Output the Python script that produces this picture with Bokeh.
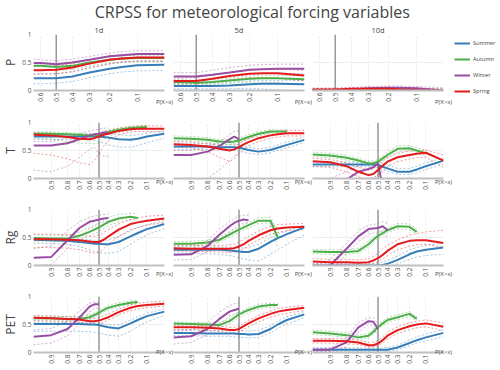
import numpy as np
from statistics import NormalDist
from bokeh.plotting import figure
from bokeh.layouts import column, row
from bokeh.models import (Range1d, FixedTicker, Span, Label, Legend, LegendItem, Title,
                          LinearAxis)
from bokeh.embed import file_html
from bokeh.resources import INLINE

TITLE = "CRPSS for meteorological forcing variables"
VARIABLES = ["P", "T", "Rg", "PET"]
LEADS = ["1d", "5d", "10d"]
SEASONS = ["Summer", "Autumn", "Winter", "Spring"]
COLORS = ["#377eb8", "#4daf4a", "#984ea3", "#e41a1c"]
X_TITLE = "P(X>x)"

# exceedance-probability grids (x values)
P_GRID = [0.64, 0.6, 0.5, 0.4, 0.3, 0.2, 0.15, 0.1, 0.044]
GRID = [0.96, 0.9, 0.8, 0.7, 0.6, 0.55, 0.5, 0.45, 0.4, 0.3, 0.2, 0.15, 0.1, 0.04]
P_TICKS = [0.6, 0.5, 0.4, 0.3, 0.2, 0.1]
P_TICK_LABELS = ["0.6", "0.5", "0.4", "0.3", "0.2", "0.1"]
TICKS = [0.9, 0.8, 0.7, 0.6, 0.5, 0.4, 0.3, 0.2, 0.1]
TICK_LABELS = ["0.9", "0.8", "0.7", "0.6", "0.5", "0.4", "0.3", "0.2", "0.1"]
THRESHOLD = 0.5
Y_TICKS = [0, 0.5, 1]
Y_TICK_LABELS = ["0", "0.5", "1"]

# ---------------- P ----------------
P1_SU = [0.22, 0.22, 0.22, 0.25, 0.32, 0.39, 0.42, 0.45, 0.46]
P1_SU_LO = [0.12, 0.12, 0.13, 0.16, 0.23, 0.30, 0.33, 0.35, 0.36]
P1_SU_HI = [0.30, 0.30, 0.30, 0.33, 0.40, 0.47, 0.50, 0.52, 0.52]
P1_AU = [0.44, 0.44, 0.42, 0.44, 0.50, 0.55, 0.57, 0.58, 0.58]
P1_AU_LO = [0.38, 0.38, 0.36, 0.38, 0.44, 0.49, 0.51, 0.52, 0.52]
P1_AU_HI = [0.48, 0.48, 0.47, 0.49, 0.55, 0.60, 0.62, 0.63, 0.63]
P1_WI = [0.49, 0.49, 0.47, 0.50, 0.55, 0.61, 0.63, 0.65, 0.65]
P1_WI_LO = [0.44, 0.44, 0.42, 0.45, 0.50, 0.56, 0.58, 0.60, 0.60]
P1_WI_HI = [0.56, 0.55, 0.53, 0.56, 0.61, 0.67, 0.69, 0.71, 0.71]
P1_SP = [0.36, 0.36, 0.37, 0.41, 0.48, 0.55, 0.57, 0.59, 0.59]
P1_SP_LO = [0.29, 0.29, 0.30, 0.34, 0.41, 0.48, 0.51, 0.53, 0.53]
P1_SP_HI = [0.43, 0.43, 0.44, 0.48, 0.55, 0.62, 0.64, 0.66, 0.66]

P5_SU = [0.08, 0.08, 0.08, 0.08, 0.09, 0.11, 0.12, 0.12, 0.11]
P5_SU_LO = [0.03, 0.03, 0.03, 0.03, 0.03, 0.04, 0.03, 0.01, -0.02]
P5_SU_HI = [0.13, 0.13, 0.13, 0.13, 0.15, 0.17, 0.18, 0.18, 0.18]
P5_AU = [0.15, 0.15, 0.14, 0.15, 0.18, 0.21, 0.22, 0.22, 0.20]
P5_AU_LO = [0.11, 0.11, 0.10, 0.11, 0.13, 0.15, 0.15, 0.14, 0.11]
P5_AU_HI = [0.19, 0.19, 0.18, 0.19, 0.22, 0.26, 0.27, 0.27, 0.26]
P5_WI = [0.25, 0.25, 0.25, 0.28, 0.32, 0.37, 0.38, 0.39, 0.39]
P5_WI_LO = [0.18, 0.18, 0.18, 0.21, 0.25, 0.29, 0.30, 0.31, 0.30]
P5_WI_HI = [0.32, 0.32, 0.32, 0.36, 0.41, 0.45, 0.46, 0.47, 0.47]
P5_SP = [0.17, 0.17, 0.17, 0.21, 0.26, 0.30, 0.31, 0.31, 0.27]
P5_SP_LO = [0.12, 0.12, 0.12, 0.15, 0.19, 0.23, 0.23, 0.22, 0.17]
P5_SP_HI = [0.22, 0.22, 0.23, 0.27, 0.32, 0.36, 0.38, 0.38, 0.36]

P10_SU = [0.00, 0.00, 0.00, 0.00, 0.00, 0.00, -0.01, -0.02, -0.04]
P10_SU_LO = [-0.02, -0.02, -0.02, -0.02, -0.03, -0.04, -0.05, -0.06, -0.08]
P10_SU_HI = [0.01, 0.01, 0.01, 0.02, 0.02, 0.02, 0.02, 0.02, 0.01]
P10_AU = [0.01, 0.01, 0.01, 0.01, 0.02, 0.02, 0.02, 0.01, -0.01]
P10_AU_LO = [-0.01, -0.01, -0.01, -0.01, -0.01, -0.01, -0.02, -0.03, -0.05]
P10_AU_HI = [0.03, 0.03, 0.03, 0.03, 0.04, 0.04, 0.04, 0.04, 0.03]
P10_WI = [0.01, 0.01, 0.01, 0.02, 0.04, 0.05, 0.05, 0.04, 0.00]
P10_WI_LO = [-0.01, -0.01, -0.01, 0.00, 0.01, 0.02, 0.02, 0.01, -0.03]
P10_WI_HI = [0.04, 0.04, 0.04, 0.05, 0.07, 0.08, 0.08, 0.07, 0.05]
P10_SP = [0.02, 0.02, 0.02, 0.03, 0.03, 0.03, 0.02, 0.01, -0.01]
P10_SP_LO = [0.00, 0.00, 0.00, 0.01, 0.01, 0.01, 0.00, -0.01, -0.04]
P10_SP_HI = [0.04, 0.04, 0.04, 0.05, 0.06, 0.06, 0.05, 0.04, 0.03]

# ---------------- T ----------------
T1_SU = [0.75, 0.75, 0.75, 0.75, 0.75, 0.75, 0.75, 0.74, 0.73, 0.70, 0.69, 0.71, 0.75, 0.80]
T1_SU_LO = [0.70, 0.70, 0.70, 0.70, 0.69, 0.68, 0.66, 0.63, 0.60, 0.56, 0.56, 0.59, 0.64, 0.72]
T1_SU_HI = [0.79, 0.79, 0.79, 0.79, 0.79, 0.79, 0.80, 0.80, 0.80, 0.78, 0.77, 0.78, 0.81, 0.85]
T1_AU = [0.80, 0.80, 0.79, 0.78, 0.77, 0.77, 0.78, 0.80, 0.83, 0.87, 0.90, 0.91, 0.92]
T1_AU_LO = [0.72, 0.70, 0.66, 0.63, 0.62, 0.62, 0.63, 0.70, 0.75, 0.82, 0.86, 0.87, 0.88]
T1_AU_HI = [0.83, 0.83, 0.82, 0.81, 0.80, 0.80, 0.81, 0.83, 0.86, 0.90, 0.93, 0.94, 0.95]
T1_WI = [0.59, 0.59, 0.63, 0.70, 0.77, 0.79, 0.80, 0.82, 0.82]
T1_WI_LO = [0.15, 0.12, 0.22, 0.38, 0.52, 0.56, 0.45, 0.40, 0.40]
T1_WI_HI = [0.66, 0.66, 0.72, 0.80, 0.85, 0.87, 0.88, 0.90, 0.90]
T1_SP = [0.78, 0.77, 0.74, 0.71, 0.70, 0.72, 0.75, 0.78, 0.80, 0.85, 0.88, 0.89, 0.89, 0.89]
T1_SP_LO = [0.45, 0.42, 0.35, 0.28, 0.25, 0.32, 0.45, 0.58, 0.68, 0.78, 0.83, 0.84, 0.84, 0.83]
T1_SP_HI = [0.82, 0.81, 0.79, 0.77, 0.77, 0.78, 0.81, 0.84, 0.86, 0.90, 0.93, 0.94, 0.94, 0.94]

T5_SU = [0.57, 0.57, 0.57, 0.56, 0.56, 0.56, 0.55, 0.53, 0.51, 0.48, 0.51, 0.55, 0.60, 0.69]
T5_SU_LO = [0.52, 0.52, 0.52, 0.51, 0.51, 0.50, 0.49, 0.47, 0.45, 0.43, 0.46, 0.50, 0.55, 0.64]
T5_SU_HI = [0.62, 0.62, 0.62, 0.61, 0.61, 0.61, 0.60, 0.58, 0.56, 0.53, 0.56, 0.60, 0.65, 0.74]
T5_AU = [0.72, 0.71, 0.69, 0.66, 0.65, 0.66, 0.68, 0.71, 0.74, 0.80, 0.84, 0.84, 0.84]
T5_AU_LO = [0.68, 0.67, 0.65, 0.62, 0.61, 0.62, 0.64, 0.67, 0.70, 0.76, 0.80, 0.81, 0.81]
T5_AU_HI = [0.76, 0.75, 0.73, 0.70, 0.69, 0.70, 0.72, 0.75, 0.78, 0.84, 0.87, 0.87, 0.87]
T5_WI = [0.42, 0.42, 0.48, 0.58, 0.70, 0.75, 0.70]
T5_WI_LO = [-0.40, -0.25, 0.00, 0.15, 0.32, 0.40, 0.45]
T5_WI_HI = [0.50, 0.50, 0.56, 0.66, 0.78, 0.84, 0.85]
T5_SP = [0.61, 0.60, 0.57, 0.53, 0.50, 0.52, 0.56, 0.61, 0.65, 0.72, 0.77, 0.79, 0.81, 0.81]
T5_SP_LO = [0.56, 0.55, 0.48, 0.38, 0.30, 0.35, 0.45, 0.53, 0.58, 0.66, 0.72, 0.74, 0.76, 0.76]
T5_SP_HI = [0.66, 0.65, 0.62, 0.59, 0.56, 0.58, 0.62, 0.67, 0.71, 0.78, 0.82, 0.84, 0.86, 0.86]

T10_SU = [0.25, 0.25, 0.25, 0.25, 0.25, 0.25, 0.24, 0.21, 0.18, 0.12, 0.12, 0.16, 0.22, 0.32]
T10_SU_LO = [0.21, 0.21, 0.21, 0.21, 0.21, 0.20, 0.19, 0.16, 0.13, 0.07, 0.07, 0.10, 0.16, 0.26]
T10_SU_HI = [0.29, 0.29, 0.29, 0.29, 0.29, 0.29, 0.29, 0.27, 0.24, 0.18, 0.18, 0.22, 0.28, 0.37]
T10_AU = [0.43, 0.41, 0.37, 0.32, 0.27, 0.27, 0.30, 0.36, 0.42, 0.53, 0.54, 0.50, 0.45]
T10_AU_LO = [0.39, 0.37, 0.33, 0.28, 0.23, 0.23, 0.26, 0.32, 0.37, 0.48, 0.50, 0.46, 0.41]
T10_AU_HI = [0.47, 0.45, 0.41, 0.36, 0.31, 0.31, 0.34, 0.40, 0.47, 0.58, 0.59, 0.55, 0.50]
T10_WI = [-0.35, -0.20, -0.02, 0.12, 0.17, 0.20, 0.27, -0.15]
T10_WI_LO = [-0.60, -0.45, -0.20, -0.05, 0.00, 0.02, 0.05, -0.40]
T10_WI_HI = [-0.10, 0.00, 0.12, 0.22, 0.26, 0.28, 0.30, 0.10]
T10_SP = [0.31, 0.29, 0.22, 0.12, 0.06, 0.08, 0.15, 0.23, 0.30, 0.38, 0.42, 0.44, 0.46, 0.32]
T10_SP_LO = [0.22, 0.20, 0.12, 0.03, -0.02, 0.00, 0.06, 0.14, 0.21, 0.30, 0.35, 0.37, 0.38, 0.20]
T10_SP_HI = [0.36, 0.34, 0.28, 0.20, 0.15, 0.17, 0.24, 0.31, 0.37, 0.45, 0.49, 0.50, 0.51, 0.42]

# ---------------- Rg ----------------
RG1_SU = [0.46, 0.45, 0.44, 0.42, 0.40, 0.39, 0.39, 0.38, 0.38, 0.42, 0.52, 0.58, 0.65, 0.74]
RG1_SU_LO = [0.40, 0.39, 0.38, 0.34, 0.28, 0.25, 0.23, 0.22, 0.22, 0.25, 0.38, 0.46, 0.55, 0.66]
RG1_SU_HI = [0.50, 0.49, 0.48, 0.47, 0.46, 0.45, 0.45, 0.45, 0.46, 0.52, 0.62, 0.68, 0.73, 0.80]
RG1_AU = [0.49, 0.48, 0.48, 0.53, 0.60, 0.64, 0.68, 0.73, 0.78, 0.84, 0.87, 0.85]
RG1_AU_LO = [0.44, 0.43, 0.43, 0.47, 0.53, 0.57, 0.61, 0.66, 0.71, 0.78, 0.82, 0.80]
RG1_AU_HI = [0.55, 0.54, 0.54, 0.60, 0.68, 0.72, 0.76, 0.81, 0.86, 0.91, 0.93, 0.92]
RG1_WI = [0.14, 0.15, 0.45, 0.67, 0.78, 0.80, 0.82, 0.84, 0.85]
RG1_WI_LO = [0.00, 0.02, 0.30, 0.52, 0.66, 0.70, 0.74, 0.78, 0.80]
RG1_WI_HI = [0.30, 0.35, 0.62, 0.78, 0.86, 0.88, 0.90, 0.91, 0.92]
RG1_SP = [0.47, 0.47, 0.46, 0.45, 0.43, 0.42, 0.42, 0.46, 0.52, 0.64, 0.74, 0.77, 0.80, 0.84]
RG1_SP_LO = [0.32, 0.32, 0.31, 0.28, 0.24, 0.22, 0.24, 0.30, 0.38, 0.52, 0.64, 0.68, 0.72, 0.77]
RG1_SP_HI = [0.56, 0.56, 0.55, 0.54, 0.52, 0.52, 0.54, 0.59, 0.64, 0.74, 0.82, 0.85, 0.88, 0.90]

RG5_SU = [0.28, 0.28, 0.28, 0.28, 0.27, 0.26, 0.25, 0.24, 0.24, 0.30, 0.42, 0.49, 0.56, 0.68]
RG5_SU_LO = [0.22, 0.22, 0.21, 0.20, 0.18, 0.16, 0.14, 0.12, 0.10, 0.08, 0.20, 0.28, 0.38, 0.55]
RG5_SU_HI = [0.33, 0.33, 0.33, 0.33, 0.33, 0.32, 0.32, 0.31, 0.32, 0.38, 0.50, 0.56, 0.62, 0.72]
RG5_AU = [0.39, 0.39, 0.41, 0.46, 0.55, 0.60, 0.64, 0.68, 0.72, 0.80, 0.80, 0.50]
RG5_AU_LO = [0.35, 0.35, 0.37, 0.42, 0.50, 0.55, 0.59, 0.63, 0.67, 0.75, 0.76, 0.30]
RG5_AU_HI = [0.43, 0.43, 0.45, 0.51, 0.60, 0.65, 0.69, 0.73, 0.77, 0.85, 0.86, 0.62]
RG5_WI = [0.19, 0.20, 0.35, 0.55, 0.70, 0.76, 0.80, 0.82, 0.81]
RG5_WI_LO = [0.10, 0.11, 0.25, 0.44, 0.60, 0.67, 0.72, 0.76, 0.76]
RG5_WI_HI = [0.27, 0.29, 0.45, 0.65, 0.78, 0.84, 0.88, 0.90, 0.90]
RG5_SP = [0.31, 0.30, 0.30, 0.30, 0.30, 0.31, 0.34, 0.38, 0.44, 0.54, 0.63, 0.66, 0.68, 0.69]
RG5_SP_LO = [0.26, 0.25, 0.25, 0.24, 0.23, 0.24, 0.26, 0.30, 0.36, 0.46, 0.56, 0.59, 0.62, 0.64]
RG5_SP_HI = [0.36, 0.36, 0.36, 0.36, 0.37, 0.38, 0.42, 0.47, 0.52, 0.62, 0.70, 0.73, 0.74, 0.75]

RG10_SU = [0.00, 0.00, 0.00, 0.00, 0.00, 0.00, 0.00, 0.01, 0.03, 0.10, 0.20, 0.25, 0.28, 0.32]
RG10_SU_LO = [-0.05, -0.05, -0.05, -0.05, -0.05, -0.05, -0.05, -0.04, -0.02, 0.03, 0.11, 0.15, 0.18, 0.20]
RG10_SU_HI = [0.03, 0.03, 0.03, 0.03, 0.03, 0.03, 0.04, 0.06, 0.09, 0.17, 0.28, 0.32, 0.36, 0.40]
RG10_AU = [0.25, 0.24, 0.24, 0.26, 0.38, 0.46, 0.53, 0.58, 0.63, 0.70, 0.69, 0.60]
RG10_AU_LO = [0.21, 0.20, 0.20, 0.22, 0.33, 0.41, 0.48, 0.53, 0.58, 0.65, 0.64, 0.56]
RG10_AU_HI = [0.29, 0.28, 0.28, 0.31, 0.43, 0.51, 0.58, 0.63, 0.68, 0.75, 0.74, 0.66]
RG10_WI = [-0.10, 0.00, 0.30, 0.52, 0.65, 0.66, 0.67, 0.70, 0.63]
RG10_WI_LO = [-0.20, -0.10, 0.20, 0.42, 0.56, 0.58, 0.60, 0.62, 0.48]
RG10_WI_HI = [0.00, 0.10, 0.40, 0.62, 0.72, 0.73, 0.75, 0.78, 0.75]
RG10_SP = [0.07, 0.06, 0.06, 0.05, 0.06, 0.09, 0.13, 0.19, 0.26, 0.38, 0.44, 0.45, 0.45, 0.40]
RG10_SP_LO = [0.03, 0.02, 0.02, 0.01, 0.02, 0.04, 0.07, 0.12, 0.18, 0.28, 0.35, 0.37, 0.38, 0.32]
RG10_SP_HI = [0.12, 0.11, 0.11, 0.10, 0.12, 0.16, 0.22, 0.30, 0.36, 0.46, 0.54, 0.57, 0.60, 0.63]

# ---------------- PET ----------------
PET1_SU = [0.51, 0.51, 0.51, 0.51, 0.50, 0.50, 0.49, 0.47, 0.45, 0.43, 0.52, 0.58, 0.65, 0.73]
PET1_SU_LO = [0.38, 0.38, 0.38, 0.38, 0.37, 0.36, 0.35, 0.33, 0.31, 0.29, 0.38, 0.46, 0.55, 0.66]
PET1_SU_HI = [0.54, 0.54, 0.54, 0.54, 0.53, 0.53, 0.52, 0.51, 0.50, 0.49, 0.58, 0.64, 0.70, 0.78]
PET1_AU = [0.61, 0.61, 0.60, 0.60, 0.63, 0.67, 0.71, 0.76, 0.80, 0.85, 0.89, 0.90]
PET1_AU_LO = [0.58, 0.58, 0.57, 0.57, 0.59, 0.63, 0.67, 0.72, 0.76, 0.82, 0.86, 0.87]
PET1_AU_HI = [0.65, 0.65, 0.64, 0.64, 0.67, 0.71, 0.75, 0.80, 0.84, 0.89, 0.92, 0.93]
PET1_WI = [0.28, 0.31, 0.42, 0.62, 0.82, 0.86, 0.86]
PET1_WI_LO = [0.14, 0.17, 0.30, 0.50, 0.72, 0.78, 0.80]
PET1_WI_HI = [0.40, 0.43, 0.56, 0.74, 0.88, 0.90, 0.90]
PET1_SP = [0.62, 0.61, 0.60, 0.59, 0.56, 0.56, 0.57, 0.60, 0.63, 0.72, 0.80, 0.83, 0.85, 0.87]
PET1_SP_LO = [0.57, 0.56, 0.55, 0.54, 0.51, 0.50, 0.51, 0.54, 0.58, 0.67, 0.75, 0.78, 0.80, 0.83]
PET1_SP_HI = [0.66, 0.65, 0.64, 0.63, 0.61, 0.61, 0.62, 0.66, 0.69, 0.77, 0.85, 0.88, 0.90, 0.92]

PET5_SU = [0.35, 0.35, 0.34, 0.34, 0.34, 0.34, 0.33, 0.33, 0.32, 0.33, 0.42, 0.50, 0.58, 0.68]
PET5_SU_LO = [0.30, 0.30, 0.29, 0.29, 0.29, 0.28, 0.27, 0.27, 0.26, 0.27, 0.35, 0.43, 0.51, 0.62]
PET5_SU_HI = [0.40, 0.40, 0.39, 0.39, 0.39, 0.39, 0.39, 0.39, 0.38, 0.40, 0.48, 0.56, 0.64, 0.73]
PET5_AU = [0.52, 0.51, 0.50, 0.49, 0.56, 0.62, 0.68, 0.72, 0.76, 0.82, 0.85, 0.85]
PET5_AU_LO = [0.48, 0.47, 0.46, 0.45, 0.51, 0.57, 0.63, 0.67, 0.71, 0.78, 0.81, 0.81]
PET5_AU_HI = [0.55, 0.54, 0.53, 0.53, 0.60, 0.66, 0.72, 0.76, 0.80, 0.86, 0.88, 0.88]
PET5_WI = [0.27, 0.29, 0.42, 0.60, 0.73, 0.76, 0.78]
PET5_WI_LO = [0.15, 0.18, 0.32, 0.50, 0.65, 0.69, 0.72]
PET5_WI_HI = [0.38, 0.40, 0.54, 0.72, 0.84, 0.87, 0.88]
PET5_SP = [0.45, 0.45, 0.44, 0.43, 0.40, 0.40, 0.42, 0.47, 0.52, 0.61, 0.69, 0.73, 0.76, 0.80]
PET5_SP_LO = [0.41, 0.41, 0.40, 0.38, 0.35, 0.35, 0.37, 0.41, 0.46, 0.55, 0.63, 0.67, 0.70, 0.75]
PET5_SP_HI = [0.49, 0.49, 0.48, 0.47, 0.45, 0.45, 0.47, 0.52, 0.57, 0.66, 0.74, 0.78, 0.81, 0.84]

PET10_SU = [0.05, 0.05, 0.05, 0.05, 0.05, 0.05, 0.05, 0.05, 0.05, 0.09, 0.17, 0.22, 0.27, 0.35]
PET10_SU_LO = [0.02, 0.02, 0.02, 0.02, 0.02, 0.02, 0.02, 0.02, 0.02, 0.05, 0.12, 0.17, 0.21, 0.28]
PET10_SU_HI = [0.08, 0.08, 0.08, 0.08, 0.08, 0.08, 0.08, 0.08, 0.09, 0.13, 0.22, 0.28, 0.33, 0.41]
PET10_AU = [0.36, 0.34, 0.31, 0.27, 0.30, 0.37, 0.45, 0.52, 0.58, 0.63, 0.69, 0.60]
PET10_AU_LO = [0.32, 0.30, 0.27, 0.24, 0.26, 0.33, 0.41, 0.48, 0.54, 0.59, 0.64, 0.56]
PET10_AU_HI = [0.40, 0.38, 0.35, 0.31, 0.34, 0.41, 0.50, 0.57, 0.62, 0.68, 0.73, 0.64]
PET10_WI = [0.05, 0.05, 0.18, 0.45, 0.56, 0.55, 0.42]
PET10_WI_LO = [0.02, 0.02, 0.10, 0.36, 0.50, 0.45, 0.30]
PET10_WI_HI = [0.08, 0.08, 0.26, 0.54, 0.62, 0.62, 0.52]
PET10_SP = [0.21, 0.21, 0.20, 0.18, 0.13, 0.13, 0.16, 0.22, 0.30, 0.40, 0.47, 0.50, 0.52, 0.46]
PET10_SP_LO = [0.17, 0.17, 0.16, 0.14, 0.10, 0.10, 0.12, 0.17, 0.24, 0.34, 0.41, 0.44, 0.46, 0.39]
PET10_SP_HI = [0.25, 0.25, 0.24, 0.22, 0.18, 0.18, 0.21, 0.28, 0.36, 0.46, 0.53, 0.56, 0.58, 0.53]

DATA = {
    ("P", "1d"): [(P1_SU, P1_SU_LO, P1_SU_HI), (P1_AU, P1_AU_LO, P1_AU_HI), (P1_WI, P1_WI_LO, P1_WI_HI), (P1_SP, P1_SP_LO, P1_SP_HI)],
    ("P", "5d"): [(P5_SU, P5_SU_LO, P5_SU_HI), (P5_AU, P5_AU_LO, P5_AU_HI), (P5_WI, P5_WI_LO, P5_WI_HI), (P5_SP, P5_SP_LO, P5_SP_HI)],
    ("P", "10d"): [(P10_SU, P10_SU_LO, P10_SU_HI), (P10_AU, P10_AU_LO, P10_AU_HI), (P10_WI, P10_WI_LO, P10_WI_HI), (P10_SP, P10_SP_LO, P10_SP_HI)],
    ("T", "1d"): [(T1_SU, T1_SU_LO, T1_SU_HI), (T1_AU, T1_AU_LO, T1_AU_HI), (T1_WI, T1_WI_LO, T1_WI_HI), (T1_SP, T1_SP_LO, T1_SP_HI)],
    ("T", "5d"): [(T5_SU, T5_SU_LO, T5_SU_HI), (T5_AU, T5_AU_LO, T5_AU_HI), (T5_WI, T5_WI_LO, T5_WI_HI), (T5_SP, T5_SP_LO, T5_SP_HI)],
    ("T", "10d"): [(T10_SU, T10_SU_LO, T10_SU_HI), (T10_AU, T10_AU_LO, T10_AU_HI), (T10_WI, T10_WI_LO, T10_WI_HI), (T10_SP, T10_SP_LO, T10_SP_HI)],
    ("Rg", "1d"): [(RG1_SU, RG1_SU_LO, RG1_SU_HI), (RG1_AU, RG1_AU_LO, RG1_AU_HI), (RG1_WI, RG1_WI_LO, RG1_WI_HI), (RG1_SP, RG1_SP_LO, RG1_SP_HI)],
    ("Rg", "5d"): [(RG5_SU, RG5_SU_LO, RG5_SU_HI), (RG5_AU, RG5_AU_LO, RG5_AU_HI), (RG5_WI, RG5_WI_LO, RG5_WI_HI), (RG5_SP, RG5_SP_LO, RG5_SP_HI)],
    ("Rg", "10d"): [(RG10_SU, RG10_SU_LO, RG10_SU_HI), (RG10_AU, RG10_AU_LO, RG10_AU_HI), (RG10_WI, RG10_WI_LO, RG10_WI_HI), (RG10_SP, RG10_SP_LO, RG10_SP_HI)],
    ("PET", "1d"): [(PET1_SU, PET1_SU_LO, PET1_SU_HI), (PET1_AU, PET1_AU_LO, PET1_AU_HI), (PET1_WI, PET1_WI_LO, PET1_WI_HI), (PET1_SP, PET1_SP_LO, PET1_SP_HI)],
    ("PET", "5d"): [(PET5_SU, PET5_SU_LO, PET5_SU_HI), (PET5_AU, PET5_AU_LO, PET5_AU_HI), (PET5_WI, PET5_WI_LO, PET5_WI_HI), (PET5_SP, PET5_SP_LO, PET5_SP_HI)],
    ("PET", "10d"): [(PET10_SU, PET10_SU_LO, PET10_SU_HI), (PET10_AU, PET10_AU_LO, PET10_AU_HI), (PET10_WI, PET10_WI_LO, PET10_WI_HI), (PET10_SP, PET10_SP_LO, PET10_SP_HI)],
}

# ---------------- layout constants ----------------
FONT = "Open Sans"
FW, FH = 131, 56
LEFT = [31, 0, 0]
RIGHT = [9, 8, 59]
TOP = [12, 5, 5, 5]
BOTTOM = [27, 26, 26, 18]
TITLE_H = 22
TOTAL_W = 500
XT_STANDOFF = [-7, -15, -10, -19]


def q(p):
    """probability-paper (normal quantile) position of an exceedance probability"""
    return NormalDist().inv_cdf(1 - p)


def style_axis(ax, size="6.5px", color="#555555"):
    ax.major_tick_line_color = None
    ax.minor_tick_line_color = None
    ax.major_tick_out = 0
    ax.minor_tick_out = 0
    ax.major_tick_in = 0
    ax.minor_tick_in = 0
    ax.major_label_text_font = FONT
    ax.major_label_text_font_size = size
    ax.major_label_text_color = color


def make_panel(vi, li):
    var, lead = VARIABLES[vi], LEADS[li]
    grid = P_GRID if var == "P" else GRID
    ticks = P_TICKS if var == "P" else TICKS
    tick_labels = P_TICK_LABELS if var == "P" else TICK_LABELS
    kw = dict(title=lead) if vi == 0 else dict(title_location=None)
    p = figure(frame_width=FW, frame_height=FH,
               x_range=Range1d(q(grid[0]), q(grid[-1])), y_range=Range1d(0, 1),
               output_backend="svg", toolbar_location=None,
               y_axis_location="left" if li == 0 else None,
               min_border_left=LEFT[li], min_border_right=RIGHT[li],
               min_border_top=TOP[vi], min_border_bottom=BOTTOM[vi], **kw)
    p.outline_line_color = None
    p.border_fill_color = "white"
    p.background_fill_color = "white"
    if vi == 0:
        p.title.align = "center"
        p.title.text_font = FONT
        p.title.text_font_size = "7.5px"
        p.title.text_font_style = "normal"
        p.title.text_color = "#444444"
        p.title.standoff = 0

    xt = [q(t) for t in ticks]
    xa = p.xaxis[0]
    xa.ticker = FixedTicker(ticks=xt)
    xa.major_label_overrides = dict(zip(xt, tick_labels))
    xa.major_label_orientation = np.pi / 2
    style_axis(xa)
    xa.axis_line_color = "#c0c0c0"
    xa.axis_line_width = 2
    xa.major_label_standoff = 2

    if li == 0:
        ya = p.yaxis[0]
        ya.ticker = FixedTicker(ticks=Y_TICKS)
        ya.major_label_overrides = dict(zip(Y_TICKS, Y_TICK_LABELS))
        style_axis(ya)
        ya.axis_line_color = None
        ya.major_label_standoff = 2
        p.add_layout(Title(text=var, align="center", vertical_align="middle", standoff=0,
                           text_font=FONT, text_font_size="12px", text_font_style="normal",
                           text_color="#444444"), "left")

    # "P(X>x)" as a single-tick secondary axis at the right end of the x axis
    x_end = q(grid[-1])
    xa2 = LinearAxis(ticker=FixedTicker(ticks=[x_end]), major_label_overrides={x_end: X_TITLE},
                     axis_line_color=None, major_label_standoff=XT_STANDOFF[vi])
    style_axis(xa2, size="6px", color="#444444")
    p.add_layout(xa2, "below")

    p.xgrid.ticker = FixedTicker(ticks=xt)
    p.xgrid.grid_line_color = "#e8e8e8"
    p.xgrid.grid_line_dash = "2 2"
    p.ygrid.ticker = FixedTicker(ticks=[0.5, 1])
    p.ygrid.grid_line_color = "#eeeeee"

    p.add_layout(Span(location=q(THRESHOLD), dimension="height", line_color="#999999",
                      line_width=1.5, level="underlay"))

    series = DATA[(var, lead)]
    for si, (mean, lo, hi) in enumerate(series):
        xs = [q(v) for v in grid[:len(mean)]]
        for band in (lo, hi):
            p.line(xs, band, line_color=COLORS[si], line_width=1, line_alpha=0.45, line_dash="2 2")
    renderers = []
    for si, (mean, lo, hi) in enumerate(series):
        xs = [q(v) for v in grid[:len(mean)]]
        renderers.append(p.line(xs, mean, line_color=COLORS[si], line_width=2))

    if vi == 0 and li == 2:
        legend = Legend(items=[LegendItem(label=s, renderers=[r]) for s, r in zip(SEASONS, renderers)],
                        location=(11, -9), orientation="vertical", padding=0, margin=0, spacing=0,
                        glyph_width=16, glyph_height=16, label_height=16, label_standoff=3,
                        label_text_font=FONT, label_text_font_size="5.6px", label_text_color="#444444",
                        border_line_color=None, background_fill_alpha=0)
        p.add_layout(legend, "right")
    return p


# title strip
tf = figure(width=TOTAL_W, height=TITLE_H, x_range=Range1d(0, TOTAL_W), y_range=Range1d(0, TITLE_H),
            x_axis_location=None, y_axis_location=None, toolbar_location=None, title_location=None,
            output_backend="svg", min_border=0)
tf.outline_line_color = None
tf.grid.visible = False
tf.add_layout(Label(x=251.8, y=11, text=TITLE, text_align="center", text_baseline="middle",
                    text_font=FONT, text_font_size="16px", text_color="#444444"))

rows = [tf]
for vi in range(len(VARIABLES)):
    rows.append(row(*[make_panel(vi, li) for li in range(len(LEADS))]))

layout = column(*rows)
open("out.html", "w").write(file_html(layout, INLINE))
